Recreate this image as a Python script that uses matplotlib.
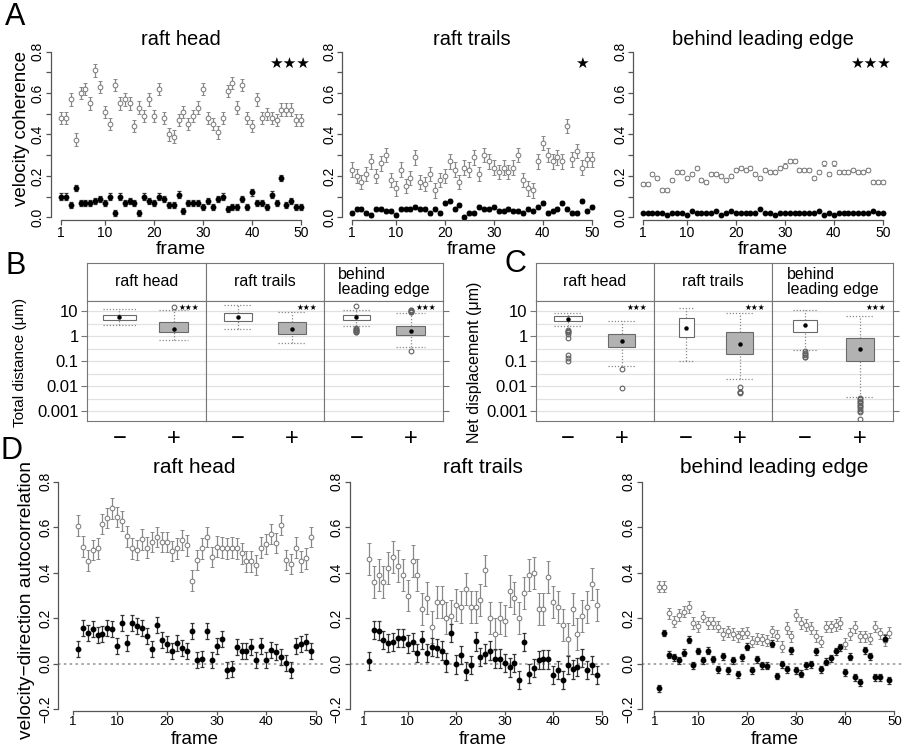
import numpy as np
import matplotlib.pyplot as plt
from matplotlib.ticker import NullLocator

# ----------------------------------------- #
# panel A : velocity coherence per frame (open = "-", filled = "+")

frames_a = np.arange(1, 51)

coh_head_minus = [0.48, 0.48, 0.57, 0.375, 0.60, 0.62, 0.55, 0.71, 0.63, 0.51,
                  0.45, 0.64, 0.55, 0.57, 0.55, 0.44, 0.53, 0.49, 0.57, 0.49,
                  0.62, 0.48, 0.40, 0.39, 0.47, 0.51, 0.45, 0.49, 0.53, 0.62,
                  0.48, 0.45, 0.41, 0.48, 0.61, 0.65, 0.53, 0.64, 0.48, 0.44,
                  0.57, 0.48, 0.50, 0.48, 0.47, 0.52, 0.52, 0.52, 0.47, 0.47]
coh_head_plus = [0.10, 0.10, 0.06, 0.14, 0.07, 0.07, 0.07, 0.08, 0.09, 0.07,
                 0.10, 0.02, 0.10, 0.07, 0.08, 0.07, 0.02, 0.10, 0.08, 0.07,
                 0.10, 0.09, 0.06, 0.06, 0.11, 0.03, 0.07, 0.07, 0.07, 0.05,
                 0.08, 0.05, 0.09, 0.10, 0.04, 0.05, 0.05, 0.09, 0.05, 0.12,
                 0.07, 0.07, 0.05, 0.11, 0.07, 0.19, 0.06, 0.08, 0.05, 0.05]
coh_trails_minus = [0.23, 0.20, 0.17, 0.21, 0.27, 0.20, 0.26, 0.30, 0.18, 0.14,
                    0.23, 0.15, 0.19, 0.29, 0.17, 0.16, 0.21, 0.13, 0.18, 0.20,
                    0.27, 0.23, 0.17, 0.24, 0.23, 0.29, 0.21, 0.30, 0.27, 0.24,
                    0.22, 0.24, 0.22, 0.24, 0.30, 0.18, 0.14, 0.13, 0.27, 0.36,
                    0.30, 0.27, 0.29, 0.27, 0.44, 0.28, 0.32, 0.24, 0.28, 0.28]
coh_trails_plus = [0.02, 0.04, 0.04, 0.02, 0.01, 0.04, 0.04, 0.03, 0.03, 0.01,
                   0.04, 0.04, 0.04, 0.05, 0.04, 0.04, 0.02, 0.04, 0.02, 0.07,
                   0.08, 0.04, 0.06, 0.00, 0.02, 0.02, 0.05, 0.04, 0.04, 0.05,
                   0.03, 0.03, 0.04, 0.03, 0.03, 0.02, 0.04, 0.03, 0.05, 0.07,
                   0.02, 0.03, 0.04, 0.07, 0.04, 0.02, 0.02, 0.08, 0.03, 0.05]
coh_edge_minus = [0.16, 0.16, 0.21, 0.19, 0.13, 0.13, 0.18, 0.22, 0.22, 0.19,
                  0.21, 0.24, 0.18, 0.17, 0.21, 0.21, 0.20, 0.18, 0.20, 0.23,
                  0.24, 0.23, 0.24, 0.21, 0.19, 0.23, 0.22, 0.22, 0.24, 0.25,
                  0.27, 0.27, 0.23, 0.23, 0.23, 0.19, 0.22, 0.26, 0.21, 0.26,
                  0.22, 0.22, 0.22, 0.23, 0.22, 0.22, 0.23, 0.17, 0.17, 0.17]
coh_edge_plus = [0.02, 0.02, 0.02, 0.02, 0.02, 0.01, 0.02, 0.02, 0.02, 0.01,
                 0.03, 0.02, 0.02, 0.02, 0.02, 0.03, 0.01, 0.02, 0.03, 0.02,
                 0.02, 0.02, 0.02, 0.02, 0.04, 0.02, 0.02, 0.01, 0.02, 0.02,
                 0.02, 0.02, 0.02, 0.02, 0.02, 0.02, 0.03, 0.01, 0.02, 0.01,
                 0.02, 0.02, 0.02, 0.02, 0.02, 0.02, 0.02, 0.03, 0.02, 0.02]
coh_err = [0.03, 0.015, 0.035, 0.01, 0.01, 0.005]   # head-,head+,trails-,trails+,edge-,edge+
coh_stars = ['★★★', '★', '★★★']

# ----------------------------------------- #
# panel D : velocity-direction autocorrelation, frames 2..49

frames_d = np.arange(2, 50)

ac_head_minus = [0.607, 0.515, 0.453, 0.50, 0.507, 0.614, 0.64, 0.683, 0.646, 0.628,
                 0.56, 0.507, 0.50, 0.547, 0.51, 0.536, 0.558, 0.536, 0.536, 0.495,
                 0.507, 0.544, 0.52, 0.365, 0.456, 0.507, 0.558, 0.47, 0.515, 0.51,
                 0.507, 0.51, 0.507, 0.485, 0.45, 0.45, 0.434, 0.51, 0.526, 0.57,
                 0.53, 0.61, 0.456, 0.438, 0.51, 0.45, 0.463, 0.558]
ac_head_plus = [0.064, 0.159, 0.137, 0.151, 0.127, 0.131, 0.156, 0.154, 0.078, 0.178,
                0.093, 0.178, 0.167, 0.156, 0.122, 0.064, 0.169, 0.105, 0.087, 0.058,
                0.09, 0.068, 0.058, 0.145, 0.017, 0.022, 0.144, 0.017, 0.08, 0.107,
                -0.027, -0.024, 0.075, 0.058, 0.058, 0.072, 0.017, 0.08, 0.017, 0.06,
                0.052, 0.031, 0.002, -0.027, 0.078, 0.085, 0.096, 0.056]
ac_trails_minus = [0.46, 0.36, 0.39, 0.36, 0.42, 0.47, 0.43, 0.39, 0.30, 0.45,
                   0.39, 0.24, 0.29, 0.16, 0.27, 0.27, 0.20, 0.21, 0.26, 0.25,
                   0.33, 0.25, 0.25, 0.28, 0.41, 0.20, 0.13, 0.20, 0.19, 0.32,
                   0.29, 0.20, 0.31, 0.39, 0.40, 0.24, 0.24, 0.38, 0.27, 0.25,
                   0.17, 0.11, 0.24, 0.13, 0.21, 0.25, 0.35, 0.26]
ac_trails_plus = [0.013, 0.148, 0.146, 0.105, 0.09, 0.095, 0.115, 0.112, 0.087, 0.095,
                  0.049, 0.103, 0.049, 0.075, 0.068, 0.058, 0.006, 0.134, -0.003, 0.038,
                  -0.03, -0.006, 0.098, 0.031, 0.045, 0.058, 0.023, 0.023, 0.004, -0.016,
                  0.004, -0.07, 0.094, -0.043, -0.02, 0.016, 0.019, 0.019, -0.05, -0.028,
                  -0.072, -0.006, -0.025, -0.013, 0.025, -0.028, -0.006, -0.048]
ac_edge_minus = [0.339, 0.339, 0.222, 0.185, 0.214, 0.229, 0.25, 0.18, 0.165, 0.207,
                 0.18, 0.18, 0.163, 0.131, 0.142, 0.131, 0.12, 0.134, 0.137, 0.097,
                 0.111, 0.107, 0.101, 0.142, 0.123, 0.075, 0.157, 0.12, 0.214, 0.179,
                 0.171, 0.157, 0.122, 0.097, 0.163, 0.165, 0.171, 0.179, 0.089, 0.131,
                 0.161, 0.12, 0.12, 0.111, 0.163, 0.134, 0.105, 0.137]
ac_edge_plus = [-0.108, 0.135, 0.04, 0.028, 0.016, 0.049, 0.105, -0.007, 0.056, 0.016,
                0.058, 0.021, -0.025, 0.033, -0.028, 0.016, -0.047, 0.028, 0.075, -0.028,
                0.019, -0.007, -0.009, 0.089, -0.054, -0.003, -0.025, 0.06, -0.028, -0.043,
                -0.006, -0.003, 0.054, -0.025, 0.01, 0.025, 0.054, 0.072, -0.038, 0.031,
                -0.06, -0.081, 0.06, 0.033, -0.06, -0.06, 0.11, -0.072]
ac_err = [0.045, 0.035, 0.07, 0.04, 0.025, 0.015]

# ----------------------------------------- #
# panels B, C : box plots, order head-, head+, trails-, trails+, edge-, edge+

regions = ['raft head', 'raft trails', 'behind\nleading edge']
conditions = ['\u2212', '+']

tot_lo = [2.85, 0.67, 1.9, 0.51, 2.5, 0.37]
tot_q1 = [4.5, 1.45, 4.1, 1.24, 4.4, 1.07]
tot_med = [5.75, 1.96, 5.75, 1.9, 5.6, 1.58]
tot_q3 = [7.1, 3.5, 8.1, 3.5, 6.9, 2.4]
tot_hi = [12.4, 11.0, 17.4, 9.1, 11.0, 8.6]
tot_out = [[], [14.0], [], [],
           [16.3, 2.1, 1.95, 1.8, 1.7, 1.6, 1.5, 1.4],
           [11.0, 10.5, 10.0, 9.5, 9.0, 0.26]]

net_lo = [2.6, 0.063, 0.1, 0.019, 0.27, 0.0037]
net_q1 = [4.0, 0.35, 0.89, 0.195, 1.4, 0.098]
net_med = [4.8, 0.65, 2.0, 0.48, 2.7, 0.29]
net_q3 = [6.5, 1.2, 5.1, 1.5, 4.2, 0.86]
net_hi = [8.1, 4.0, 12.8, 8.6, 10.6, 6.5]
net_out = [[1.7, 1.6, 1.5, 1.4, 1.16, 0.81, 0.17, 0.13, 0.10],
           [0.049, 0.0081], [],
           [0.0095, 0.006, 0.0055, 0.0051],
           [0.24, 0.21, 0.19, 0.17, 0.15, 0.14],
           [0.0032, 0.0029, 0.0026, 0.0023, 0.002, 0.0018, 0.0016, 0.0014,
            0.0012, 0.001, 0.00095, 0.0005]]

# ----------------------------------------- #

W, H = 903, 748
plt.rcParams['font.family'] = ['Liberation Sans', 'DejaVu Sans']
fig = plt.figure(figsize=(W / 100, H / 100), dpi=100)

AX_COL = '#555555'


def px_axes(l, t, r, b, xmap=None, ymap=None):
    # axes placed in pixel coords, limits from two known pixel->value points
    ax = fig.add_axes([l / W, 1 - b / H, (r - l) / W, (b - t) / H])
    if xmap is not None:
        pa, va, pb, vb = xmap
        s = (vb - va) / (pb - pa)
        ax.set_xlim(va + (l - pa) * s, va + (r - pa) * s)
    if ymap is not None:
        pa, va, pb, vb = ymap
        s = (vb - va) / (pb - pa)
        ax.set_ylim(va + (b - pa) * s, va + (t - pa) * s)
    return ax


def ftext(x, y, s, **kw):
    fig.text(x / W, 1 - y / H, s, **kw)


def r_style(ax, yticks, ylabels, ylo, yhi):
    for s in ('top', 'right'):
        ax.spines[s].set_visible(False)
    for s in ('left', 'bottom'):
        ax.spines[s].set_color(AX_COL)
        ax.spines[s].set_linewidth(0.9)
    ax.spines['left'].set_bounds(ylo, yhi)
    ax.spines['bottom'].set_bounds(1, 50)
    ax.set_xticks([1, 10, 20, 30, 40, 50])
    ax.set_yticks(yticks)
    ax.set_yticklabels(ylabels, rotation=90, va='center')
    ax.tick_params(length=3.5, width=0.9, color=AX_COL, labelsize=10, pad=1)


def series(ax, x, y, err, filled):
    if filled:
        ax.errorbar(x, y, yerr=err, fmt='o', ms=3.2, mfc='black', mec='black',
                    ecolor='#333333', elinewidth=0.9, capsize=1.6, capthick=0.9)
    else:
        ax.errorbar(x, y, yerr=err, fmt='o', ms=3.4, mfc='white', mec='#777777',
                    mew=0.7, ecolor='#888888', elinewidth=0.9, capsize=1.6,
                    capthick=0.9)


# ---------------- panel A ----------------
a_minus = [coh_head_minus, coh_trails_minus, coh_edge_minus]
a_plus = [coh_head_plus, coh_trails_plus, coh_edge_plus]
a_titles = ['raft head', 'raft trails', 'behind leading edge']
a_left = [51, 342.3, 633.3]
a_x1 = [61, 351.7, 642.7]
a_x50 = [301, 591.7, 882.7]
for k in range(3):
    ax = px_axes(a_left[k], 44, a_x50[k] + 6, 219.5,
                 xmap=(a_x1[k], 1, a_x50[k], 50), ymap=(217.3, 0.0, 51.7, 0.8))
    series(ax, frames_a, a_minus[k], coh_err[2 * k], False)
    series(ax, frames_a, a_plus[k], coh_err[2 * k + 1], True)
    r_style(ax, np.arange(0, 0.81, 0.1),
            ['0.0', '', '0.2', '', '0.4', '', '0.6', '', '0.8'], 0, 0.8)
    xc = (a_x1[k] + a_x50[k]) / 2
    ftext(xc, 45, a_titles[k], ha='center', va='baseline', fontsize=14.5)
    ftext(xc, 254, 'frame', ha='center', va='baseline', fontsize=14)
    ftext(a_x50[k] - 12 if k != 1 else a_x50[k] - 10, 63, coh_stars[k],
          ha='center', va='center', fontsize=11, family='DejaVu Sans')
ftext(22, 128, 'velocity coherence', rotation=90, ha='center', va='center',
      fontsize=13.5)

# ---------------- panel D ----------------
d_minus = [ac_head_minus, ac_trails_minus, ac_edge_minus]
d_plus = [ac_head_plus, ac_trails_plus, ac_edge_plus]
d_left = [58.3, 350, 641.7]
d_x1 = [72.7, 364, 654.3]
d_x50 = [316, 601.7, 894.3]
for k in range(3):
    ax = px_axes(d_left[k], 474, min(d_x50[k] + 10, 902), 711,
                 xmap=(d_x1[k], 1, d_x50[k], 50), ymap=(709.3, -0.2, 481.7, 0.8))
    ax.axhline(0, color='#999999', ls=(0, (1.5, 2)), lw=1.2, zorder=0)
    series(ax, frames_d, d_minus[k], ac_err[2 * k], False)
    series(ax, frames_d, d_plus[k], ac_err[2 * k + 1], True)
    r_style(ax, [-0.2, 0.0, 0.2, 0.4, 0.6, 0.8],
            ['\u22120.2', '0.0', '0.2', '0.4', '0.6', '0.8'], -0.2, 0.8)
    ax.tick_params(axis='x', labelsize=9.5, pad=0.5, length=3)
    xc = (d_x1[k] + d_x50[k]) / 2
    ftext(xc, 473, a_titles[k], ha='center', va='baseline', fontsize=15)
    ftext(xc, 744, 'frame', ha='center', va='baseline', fontsize=13.5)
ftext(27, 600, 'velocity\u2212direction autocorrelation', rotation=90,
      ha='center', va='center', fontsize=13.8)


# ---------------- panels B, C ----------------
def box_block(lefts, rights, lo, q1, med, q3, hi, outl, widths):
    top, mid, bottom = 263, 301, 421
    for k in range(3):
        l, r = lefts[k], rights[k]
        sax = px_axes(l, top, r, mid)
        sax.set_xticks([])
        sax.set_yticks([])
        for sp in sax.spines.values():
            sp.set_color('#777777')
        sax.text(0.5, 0.5, regions[k], transform=sax.transAxes, ha='center',
                 va='center', multialignment='left', linespacing=0.95,
                 fontsize=11.5)

        ax = px_axes(l, mid, r, bottom)
        ax.set_yscale('log')
        ax.set_ylim(10 ** -3.4, 10 ** 1.4)
        ax.set_xlim(0.4, 2.6)
        for sp in ax.spines.values():
            sp.set_color('#777777')
        for e in np.arange(-3, 1.01, 0.5):
            ax.axhline(10 ** e, color='#e2e2e2', lw=0.9, zorder=0)
        for j in range(2):
            i = 2 * k + j
            x = j + 1
            w = widths[i]
            ax.vlines(x, q3[i], hi[i], colors='#888888', linestyles=(0, (1, 1.5)), lw=0.9)
            ax.vlines(x, lo[i], q1[i], colors='#888888', linestyles=(0, (1, 1.5)), lw=0.9)
            ax.hlines([lo[i], hi[i]], x - w / 2, x + w / 2, colors='#888888',
                      linestyles=(0, (1, 1.5)), lw=0.9)
            ax.bar(x, q3[i] - q1[i], bottom=q1[i], width=w,
                   color=['white', '#b2b2b2'][j], edgecolor='#6a6a6a', lw=0.8,
                   zorder=2)
            ax.plot(x, med[i], 'o', ms=2.2, color='black', zorder=3)
            if outl[i]:
                ax.plot([x] * len(outl[i]), outl[i], 'o', ms=3.4, mfc='none',
                        mec='#606060', mew=0.8, zorder=3)
        ax.text(0.945, 0.95, '★★★', transform=ax.transAxes, ha='right',
                va='center', fontsize=5.5, family='DejaVu Sans')
        ax.set_xticks([1, 2])
        ax.set_xticklabels(conditions)
        ax.tick_params(axis='x', length=0, pad=5, labelsize=17)
        ax.set_yticks([10, 1, 0.1, 0.01, 0.001])
        ax.set_yticklabels(['10', '1', '0.1', '0.01', '0.001'])
        ax.yaxis.set_minor_locator(NullLocator())
        ax.tick_params(axis='y', length=4, color='#777777', labelsize=12, pad=2,
                       left=(k == 0), labelleft=(k == 0), right=(k == 2),
                       labelright=False)


box_block([87, 206, 324], [206, 324, 443], tot_lo, tot_q1, tot_med, tot_q3,
          tot_hi, tot_out, [0.6, 0.55, 0.52, 0.52, 0.5, 0.55])
box_block([536, 654, 772], [654, 772, 893], net_lo, net_q1, net_med, net_q3,
          net_hi, net_out, [0.52, 0.5, 0.28, 0.5, 0.42, 0.52])
ftext(20, 362, 'Total distance (\u03bcm)', rotation=90, ha='center', va='center',
      fontsize=11)
ftext(475, 362, 'Net displacement (\u03bcm)', rotation=90, ha='center',
      va='center', fontsize=11.5)

# panel letters
for lab, x, y in [('A', 15, 17), ('B', 16, 266), ('C', 515, 264), ('D', 12, 451)]:
    ftext(x, y, lab, ha='center', va='center', fontsize=22)

fig.savefig('out.png', dpi=100)
